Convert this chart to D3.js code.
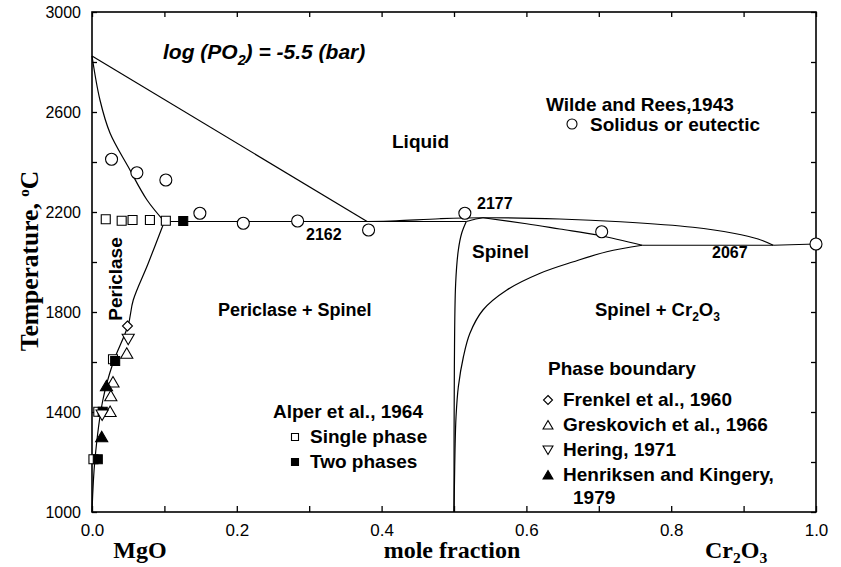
<!DOCTYPE html>
<html>
<head>
<meta charset="utf-8">
<script src="https://cdn.jsdelivr.net/npm/d3@7/dist/d3.min.js"></script>
<style>
  html, body { margin: 0; padding: 0; background: #fff; }
  svg { display: block; }
  .sans { font-family: "Liberation Sans", Arial, sans-serif; }
  .serif { font-family: "Liberation Serif", "Times New Roman", serif; }
</style>
</head>
<body>
<svg id="chart" width="841" height="567"></svg>
<script>
// ---- Phase boundaries of the MgO–Cr2O3 system, [mole fraction Cr2O3, °C] ----
const T_EUTECTIC_MGO = 2162;   // periclase + spinel eutectic
const T_SPINEL_MAX = 2177;     // congruent melting of spinel
const T_EUTECTIC_CR = 2067;    // spinel + Cr2O3 eutectic

const liquidusMgO = [[0, 2824], [0.38, T_EUTECTIC_MGO]];
const periclaseSolidus = [[0, 2824], [0.011, 2648], [0.025, 2515], [0.050, 2381], [0.076, 2248], [0.1, T_EUTECTIC_MGO]];
const periclaseSolvus = [[0.1, T_EUTECTIC_MGO], [0.077, 1990], [0.057, 1848], [0.050, 1748], [0.029, 1596], [0.015, 1448], [0.004, 1208], [0, 1000]];
const eutecticMgO = [[0.1, T_EUTECTIC_MGO], [0.517, T_EUTECTIC_MGO]];
const spinelSolidusLeft = [[0.517, T_EUTECTIC_MGO], [0.53, 2172], [0.54, T_SPINEL_MAX]];
const liquidusSpinel = [[0.38, T_EUTECTIC_MGO], [0.42, 2165], [0.48, 2173], [0.54, T_SPINEL_MAX], [0.646, 2172], [0.73, 2161], [0.83, 2139], [0.886, 2115], [0.92, 2092], [0.941, T_EUTECTIC_CR]];
const liquidusCr = [[0.941, T_EUTECTIC_CR], [1.0, 2072]];
const eutecticCr = [[0.76, T_EUTECTIC_CR], [0.941, T_EUTECTIC_CR]];
const spinelSolidusRight = [[0.54, T_SPINEL_MAX], [0.60, 2153], [0.646, 2132], [0.70, 2107], [0.76, T_EUTECTIC_CR]];
const spinelLeft = [[0.5, 1000], [0.5005, 1580], [0.5023, 1915], [0.506, 2048], [0.5106, 2115], [0.517, T_EUTECTIC_MGO]];
const spinelRight = [[0.76, T_EUTECTIC_CR], [0.711, 2041], [0.665, 2001], [0.619, 1955], [0.573, 1888], [0.54, 1808], [0.522, 1715], [0.513, 1621], [0.506, 1501], [0.5028, 1381], [0.5014, 1248], [0.5007, 1128], [0.5, 1000]];

// ---- Experimental points ----
const wildeRees = [[0.027, 2411], [0.062, 2357], [0.102, 2328], [0.149, 2195], [0.209, 2155], [0.284, 2164], [0.382, 2128], [0.515, 2195], [0.704, 2121], [1.0, 2072]];
const alperSingle = [[0.019, 2171], [0.041, 2165], [0.056, 2168], [0.080, 2168], [0.102, 2165], [0.029, 1611], [0.0087, 1401], [0.002, 1211]];
const alperTwo = [[0.126, 2164], [0.032, 1604], [0.0148, 1401], [0.008, 1211]];
const frenkel = [[0.049, 1744]];
const greskovich = [[0.048, 1635], [0.029, 1520], [0.026, 1465], [0.025, 1402]];
const hering = [[0.05, 1691], [0.014, 1388]];
const henriksen = [[0.02, 1505], [0.0134, 1301]];

// ---- Axis ticks ----
const xTicks = [0, 0.1, 0.2, 0.3, 0.4, 0.5, 0.6, 0.7, 0.8, 0.9, 1.0];
const xTickLabels = { 0: "0.0", 0.2: "0.2", 0.4: "0.4", 0.6: "0.6", 0.8: "0.8", 1: "1.0" };
const yTicks = [1000, 1200, 1400, 1600, 1800, 2000, 2200, 2400, 2600, 2800, 3000];
const yTickLabels = { 1000: "1000", 1400: "1400", 1800: "1800", 2200: "2200", 2600: "2600", 3000: "3000" };

// ---- Drawing ----
const svg = d3.select("#chart");
svg.append("rect").attr("width", 841).attr("height", 567).attr("fill", "#fff");

const L = 92, R = 816, T = 12, B = 512;
const x = d3.scaleLinear().domain([0, 1]).range([L, R]);
const y = d3.scaleLinear().domain([1000, 3000]).range([B, T]);

const fmtX = d => xTickLabels[Math.round(d * 10) / 10] || "";
const fmtY = d => yTickLabels[d] || "";

const axisStyle = g => {
  g.select(".domain").remove();
  g.selectAll(".tick line").attr("stroke", "#000").attr("stroke-width", 1.3);
};

svg.append("g").attr("transform", `translate(0,${B})`)
  .call(d3.axisBottom(x).tickValues(xTicks).tickSize(-6).tickPadding(12).tickFormat(fmtX))
  .call(axisStyle)
  .call(g => g.selectAll("text").attr("class", "sans").attr("font-size", 17).attr("fill", "#000"));
svg.append("g").attr("transform", `translate(0,${T})`)
  .call(d3.axisTop(x).tickValues(xTicks).tickSize(-5).tickFormat(() => ""))
  .call(axisStyle);
svg.append("g").attr("transform", `translate(${L},0)`)
  .call(d3.axisLeft(y).tickValues(yTicks).tickSize(-5).tickPadding(11).tickFormat(fmtY))
  .call(axisStyle)
  .call(g => g.selectAll("text").attr("class", "sans").attr("font-size", 16).attr("fill", "#000"));
svg.append("g").attr("transform", `translate(${R},0)`)
  .call(d3.axisRight(y).tickValues(yTicks).tickSize(-5).tickFormat(() => ""))
  .call(axisStyle);

svg.append("rect").attr("x", L).attr("y", T).attr("width", R - L).attr("height", B - T)
  .attr("fill", "none").attr("stroke", "#000").attr("stroke-width", 1.6);

// boundaries
const smooth = d3.line().x(d => x(d[0])).y(d => y(d[1])).curve(d3.curveCatmullRom.alpha(0.5));
const straight = d3.line().x(d => x(d[0])).y(d => y(d[1]));
const curves = [
  [liquidusMgO, straight], [periclaseSolidus, smooth], [periclaseSolvus, smooth],
  [eutecticMgO, straight], [spinelSolidusLeft, smooth], [liquidusSpinel, smooth],
  [liquidusCr, straight], [eutecticCr, straight], [spinelSolidusRight, smooth],
  [spinelLeft, smooth], [spinelRight, smooth]
];
const gLines = svg.append("g").attr("fill", "none").attr("stroke", "#000").attr("stroke-width", 1.2);
curves.forEach(([data, gen]) => gLines.append("path").attr("d", gen(data)));

// marker shapes
const shapes = {
  circle: r => `M${-r},0A${r},${r} 0 1,0 ${r},0A${r},${r} 0 1,0 ${-r},0Z`,
  square: s => `M${-s / 2},${-s / 2}h${s}v${s}h${-s}Z`,
  diamond: s => `M0,${-s / 2}L${s / 2},0L0,${s / 2}L${-s / 2},0Z`,
  up: s => `M0,${-s * 0.5}L${s * 0.55},${s * 0.45}L${-s * 0.55},${s * 0.45}Z`,
  down: s => `M0,${s * 0.5}L${s * 0.55},${-s * 0.45}L${-s * 0.55},${-s * 0.45}Z`
};
function markers(data, shape, size, filled) {
  svg.append("g").selectAll("path").data(data).join("path")
    .attr("transform", d => `translate(${x(d[0])},${y(d[1])})`)
    .attr("d", shapes[shape](size))
    .attr("fill", filled ? "#000" : "#fff")
    .attr("stroke", "#000").attr("stroke-width", 1.1);
}
markers(wildeRees, "circle", 6, false);
markers(alperSingle, "square", 9, false);
markers(alperTwo, "square", 9, true);
markers(frenkel, "diamond", 10, false);
markers(greskovich, "up", 11, false);
markers(hering, "down", 11, false);
markers(henriksen, "up", 11, true);

// text helper
function label(parts, px, py, size, opts = {}) {
  const t = svg.append("text").attr("class", opts.serif ? "serif" : "sans")
    .attr("x", px).attr("y", py).attr("font-size", size)
    .attr("font-weight", "bold").attr("fill", "#000")
    .attr("text-anchor", opts.anchor || "start");
  if (opts.italic) t.attr("font-style", "italic");
  if (opts.rotate) t.attr("transform", `rotate(${opts.rotate},${px},${py})`);
  [].concat(parts).forEach(p => {
    if (typeof p === "string") t.append("tspan").text(p);
    else t.append("tspan").attr("font-size", size * p.scale).attr("dy", p.dy).text(p.text);
  });
  return t;
}

// title
label(["log (PO", { text: "2", scale: 0.68, dy: 6 }, { text: ") = -5.5 (bar)", scale: 1, dy: -6 }], 163, 59, 21, { italic: true });

// field names
label("Liquid", 392, 148, 19);
label("Spinel", 472, 258, 19);
label("Periclase + Spinel", 218, 316, 18);
label(["Spinel + Cr", { text: "2", scale: 0.65, dy: 5 }, { text: "O", scale: 1, dy: -5 }, { text: "3", scale: 0.65, dy: 5 }], 595, 316, 18.5);
label("Periclase", 122, 279, 19, { anchor: "middle", rotate: -90 });

// invariant temperatures
label(String(T_EUTECTIC_MGO), 306, 240, 16);
label(String(T_SPINEL_MAX), 477, 209, 16);
label(String(T_EUTECTIC_CR), 712, 258, 16);

// legend: Wilde and Rees
label("Wilde and Rees,1943", 546, 111, 19);
svg.append("path").attr("transform", "translate(572,124)").attr("d", shapes.circle(5))
  .attr("fill", "#fff").attr("stroke", "#000").attr("stroke-width", 1.1);
label("Solidus or eutectic", 590, 131, 19);

// legend: Alper
label("Alper et al., 1964", 273, 418, 19);
svg.append("path").attr("transform", "translate(295,437)").attr("d", shapes.square(7))
  .attr("fill", "#fff").attr("stroke", "#000").attr("stroke-width", 1.1);
label("Single phase", 310, 443, 19);
svg.append("path").attr("transform", "translate(295,462)").attr("d", shapes.square(7))
  .attr("fill", "#000").attr("stroke", "#000").attr("stroke-width", 1.1);
label("Two phases", 310, 468, 19);

// legend: phase boundary
label("Phase boundary", 548, 375, 19);
const pbLegend = [
  ["diamond", false, "Frenkel et al., 1960", 400],
  ["up", false, "Greskovich et al., 1966", 425],
  ["down", false, "Hering, 1971", 450],
  ["up", true, "Henriksen and Kingery,", 475]
];
pbLegend.forEach(([shape, filled, text, py]) => {
  svg.append("path").attr("transform", `translate(548,${py})`).attr("d", shapes[shape](9))
    .attr("fill", filled ? "#000" : "#fff").attr("stroke", "#000").attr("stroke-width", 1.1);
  label(text, 563, py + 6, 19);
});
label("1979", 573, 504, 19);

// axis titles
label(["Temperature, ", { text: "o", scale: 0.6, dy: -9 }, { text: "C", scale: 1, dy: 9 }], 38, 261, 25.5, { serif: true, anchor: "middle", rotate: -90 });
label("MgO", 140, 558, 24, { serif: true, anchor: "middle" });
label("mole fraction", 452, 558, 24, { serif: true, anchor: "middle" });
label(["Cr", { text: "2", scale: 0.65, dy: 5 }, { text: "O", scale: 1, dy: -5 }, { text: "3", scale: 0.65, dy: 5 }], 705, 558, 24, { serif: true });
</script>
</body>
</html>
